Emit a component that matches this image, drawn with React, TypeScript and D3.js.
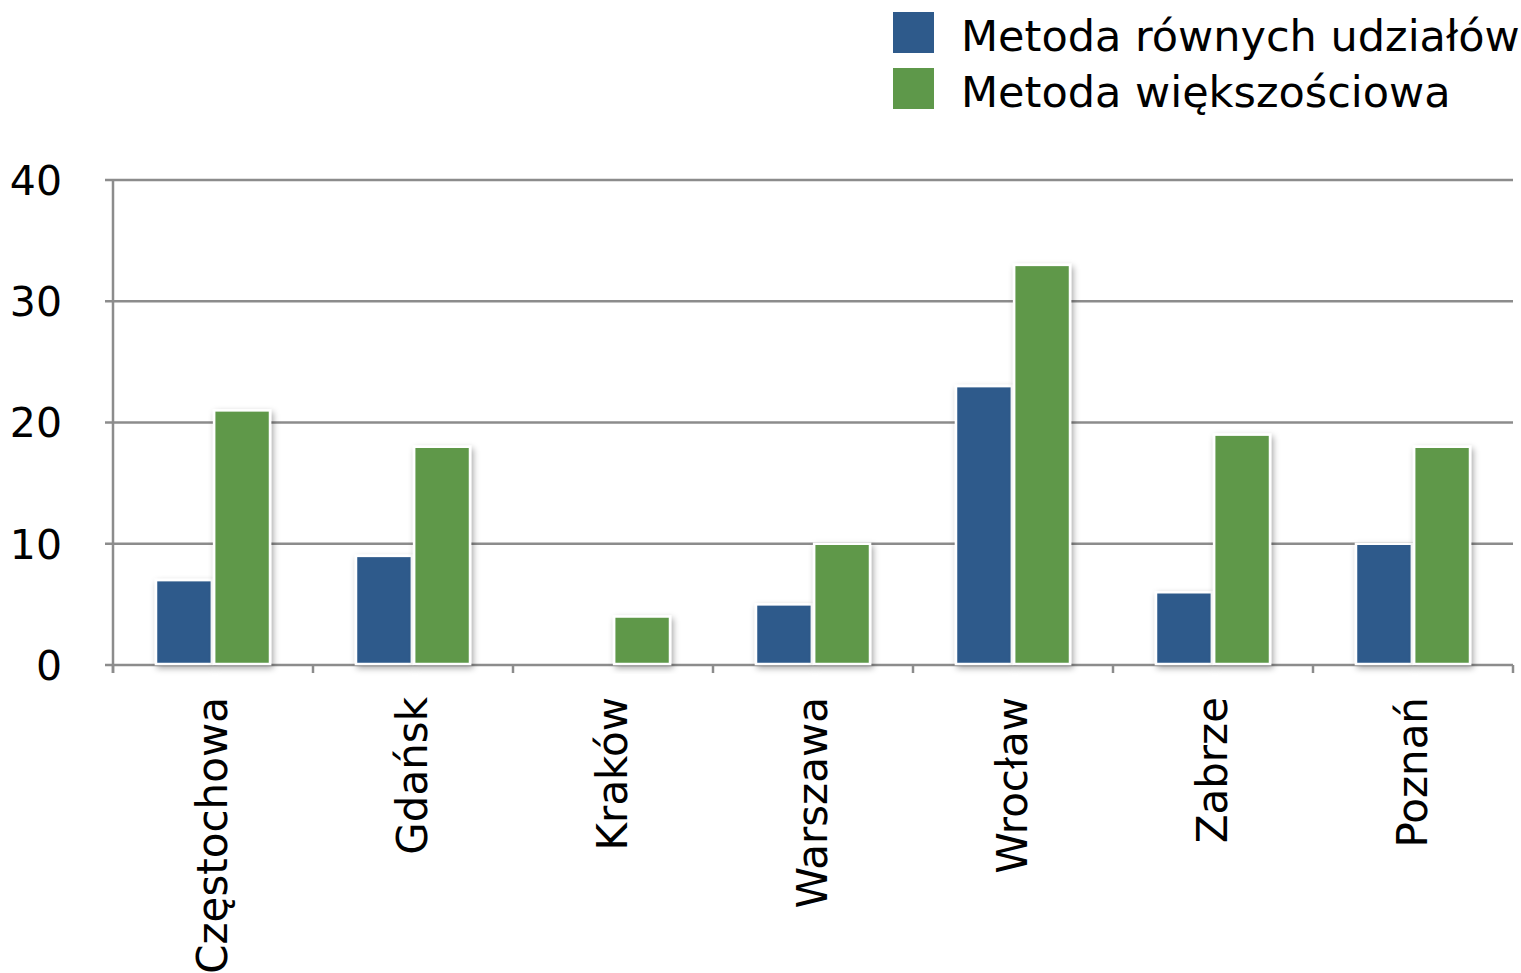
import React from "react";
import * as d3 from "d3";

const categories = ["Częstochowa", "Gdańsk", "Kraków", "Warszawa", "Wrocław", "Zabrze", "Poznań"];
const seriesNames = ["Metoda równych udziałów", "Metoda większościowa"];
const equalShares = [7, 9, 0, 5, 23, 6, 10];
const majority = [21, 18, 4, 10, 33, 19, 18];
const yTicks = [0, 10, 20, 30, 40];
const colors = ["#2e5a8b", "#5e984a"];

const W = 1521;
const H = 973;
const FONT = "'DejaVu Sans', sans-serif";

export default function App() {
  const x0 = 113, x1 = 1513, yTop = 180, yBot = 665;
  const x = d3.scaleBand<string>().domain(categories).range([x0, x1]).paddingInner(0).paddingOuter(0);
  const y = d3.scaleLinear().domain([0, 40]).range([yBot, yTop]);
  const inner = d3.scaleBand<number>().domain([0, 1]).range([43, 157]).paddingInner(0.04);
  const series = [equalShares, majority];

  return (
    <div style={{ position: "absolute", left: 0, top: 0 }}>
      <svg width={W} height={H} style={{ display: "block" }} fontFamily={FONT}>
        <defs>
          <filter id="sh" x="-20%" y="-20%" width="150%" height="140%">
            <feDropShadow dx="2" dy="3" stdDeviation="3" floodColor="#000" floodOpacity="0.35" />
          </filter>
        </defs>
        <rect width={W} height={H} fill="#fff" />
        {yTicks.map((t) => (
          <line key={t} x1={x0 - 8} x2={x1} y1={y(t)} y2={y(t)} stroke="#8c8c8c" strokeWidth={2.5} />
        ))}
        <line x1={x0} x2={x0} y1={yTop} y2={yBot + 8} stroke="#8c8c8c" strokeWidth={2.5} />
        {yTicks.map((t) => (
          <text key={t} x={62} y={y(t)} dy="0.36em" textAnchor="end" fontSize={41} fill="#000">{t}</text>
        ))}
        {categories.map((c) => (
          <line key={c} x1={x(c)!} x2={x(c)!} y1={yBot} y2={yBot + 8} stroke="#8c8c8c" strokeWidth={2.5} />
        ))}
        <line x1={x1} x2={x1} y1={yBot} y2={yBot + 8} stroke="#8c8c8c" strokeWidth={2.5} />
        {series.map((vals, s) =>
          categories.map((c, i) => {
            const v = vals[i];
            if (v <= 0) return null;
            const bx = x(c)! + inner(s)!;
            return (
              <rect key={c + s} x={bx} y={y(v)} width={inner.bandwidth()} height={yBot - y(v) - 1}
                fill={colors[s]} stroke="#fff" strokeWidth={2.5} filter="url(#sh)" />
            );
          })
        )}
        {categories.map((c) => {
          const cx = x(c)! + x.bandwidth() / 2;
          return (
            <text key={c} transform={`translate(${cx + 14},${697}) rotate(-90)`} textAnchor="end" fontSize={42} fill="#000">{c}</text>
          );
        })}
        {seriesNames.map((n, s) => (
          <g key={n}>
            <rect x={893} y={12 + s * 56} width={41} height={41} fill={colors[s]} />
            <text x={961} y={51 + s * 56} fontSize={43} fill="#000">{n}</text>
          </g>
        ))}
      </svg>
    </div>
  );
}
